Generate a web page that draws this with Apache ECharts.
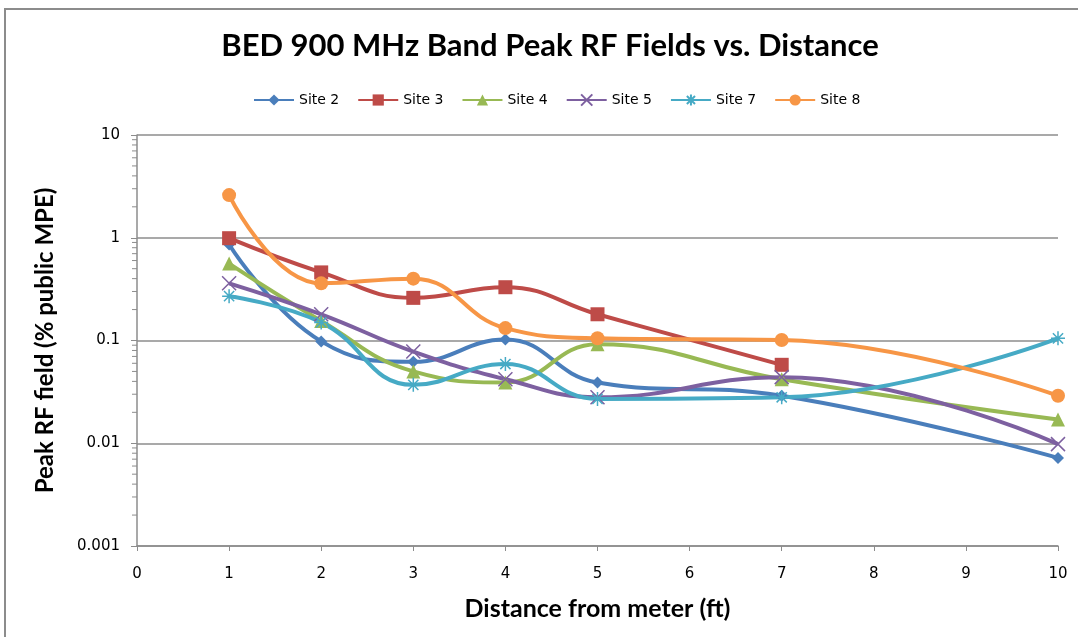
<!DOCTYPE html>
<html>
<head>
<meta charset="utf-8">
<script src="https://cdn.jsdelivr.net/npm/echarts@6/dist/echarts.min.js"></script>
<style>
  html, body { margin: 0; padding: 0; background: #fff; }
  #chart { width: 1078px; height: 637px; }
</style>
</head>
<body>
<div id="chart"></div>
<script>
// distances (ft) where readings were taken
const distances = [1, 2, 3, 4, 5, 7, 10];
const siteNames = ["Site 2", "Site 3", "Site 4", "Site 5", "Site 7", "Site 8"];
// peak RF field, % of public MPE
const site2 = [0.86, 0.098, 0.062, 0.102, 0.039, 0.029, 0.0072];
const site3 = [0.99, 0.46, 0.26, 0.33, 0.18, 0.058, null];
const site4 = [0.56, 0.155, 0.050, 0.039, 0.092, 0.042, 0.017];
const site5 = [0.36, 0.18, 0.078, 0.042, 0.028, 0.044, 0.0098];
const site7 = [0.27, 0.15, 0.037, 0.059, 0.027, 0.028, 0.105];
const site8 = [2.6, 0.36, 0.40, 0.132, 0.105, 0.101, 0.029];
const colors = ["#4A7EBB", "#BE4B48", "#98B954", "#7D60A0", "#46AAC5", "#F79646"];
// y axis minor tick values (log 2..9 per decade)
const minorTicks = [];
[0.001, 0.01, 0.1, 1].forEach(function (d) {
  for (let k = 2; k <= 9; k++) minorTicks.push(+(d * k).toPrecision(3));
});

const allSites = [site2, site3, site4, site5, site7, site8];
const symbols = [
  "diamond",
  "rect",
  "triangle",
  "path://M-10,-10L10,10M-10,10L10,-10",
  "path://M0,-11L0,11M-11,0L11,0M-8,-8L8,8M-8,8L8,-8",
  "circle",
];
const symbolSizes = [12, 14, 14, 14, 14, 14];

const chart = echarts.init(document.getElementById("chart"));

const series = allSites.map(function (vals, i) {
  const isStroke = i === 3 || i === 4;
  return {
    name: siteNames[i],
    type: "line",
    smooth: 0.45,
    data: distances.map(function (d, j) { return [d, vals[j]]; }).filter(function (p) { return p[1] != null; }),
    symbol: symbols[i],
    symbolSize: symbolSizes[i],
    showAllSymbol: true,
    color: colors[i],
    lineStyle: { width: 4, color: colors[i] },
    itemStyle: isStroke
      ? { color: "rgba(0,0,0,0)", borderColor: colors[i], borderWidth: 1.5 }
      : { color: colors[i] },
    emphasis: { disabled: true },
    z: 3,
  };
});

// minor ticks on the log axis
series.push({
  type: "custom",
  name: "minor",
  silent: true,
  clip: false,
  data: minorTicks.map(function (v) { return [0, v]; }),
  renderItem: function (params, api) {
    const p = api.coord([0, api.value(1)]);
    return {
      type: "line",
      shape: { x1: p[0] - 5, y1: p[1], x2: p[0], y2: p[1] },
      style: { stroke: "#8c8c8c", lineWidth: 1 },
    };
  },
  z: 1,
});

chart.setOption({
  animation: false,
  title: {
    text: "BED 900 MHz Band Peak RF Fields vs. Distance",
    left: 545,
    textAlign: "center",
    top: 25,
    textStyle: { fontFamily: "Lato", fontSize: 31, fontWeight: "bold", color: "#000" },
  },
  legend: {
    data: siteNames,
    top: 88,
    left: 248,
    itemWidth: 40,
    itemHeight: 14,
    itemGap: 18,
    textStyle: { fontFamily: "DejaVu Sans", fontSize: 14, color: "#000" },
  },
  graphic: [{
    type: "rect",
    shape: { x: 5, y: 9, width: 1200, height: 800 },
    style: { fill: "none", stroke: "#8c8c8c", lineWidth: 2 },
    silent: true,
  }],
  grid: { left: 137, right: 20, top: 135, bottom: 91 },
  xAxis: {
    type: "value",
    min: 0,
    max: 10,
    interval: 1,
    name: "Distance from meter (ft)",
    nameLocation: "middle",
    nameGap: 50,
    nameTextStyle: { fontFamily: "Lato", fontSize: 25, fontWeight: "bold", color: "#000" },
    axisLine: { lineStyle: { color: "#8c8c8c", width: 1.5 } },
    axisTick: { show: true, length: 5, lineStyle: { color: "#8c8c8c" } },
    axisLabel: { margin: 21, fontFamily: "DejaVu Sans", fontSize: 15, color: "#000" },
    splitLine: { show: false },
  },
  yAxis: {
    type: "log",
    logBase: 10,
    min: 0.001,
    max: 10,
    name: "Peak RF field (% public MPE)",
    nameLocation: "middle",
    nameGap: 80,
    nameTextStyle: { fontFamily: "Lato", fontSize: 24, fontWeight: "bold", color: "#000" },
    axisLine: { show: true, lineStyle: { color: "#8c8c8c", width: 1.5 } },
    axisTick: { show: true, length: 6, lineStyle: { color: "#8c8c8c" } },
    axisLabel: {
      margin: 17,
      fontFamily: "DejaVu Sans",
      fontSize: 15,
      color: "#000",
      formatter: function (v) { return String(+v.toPrecision(3)); },
    },
    splitLine: { show: true, lineStyle: { color: "#8c8c8c", width: 1.5 } },
  },
  series: series,
});
</script>
</body>
</html>
